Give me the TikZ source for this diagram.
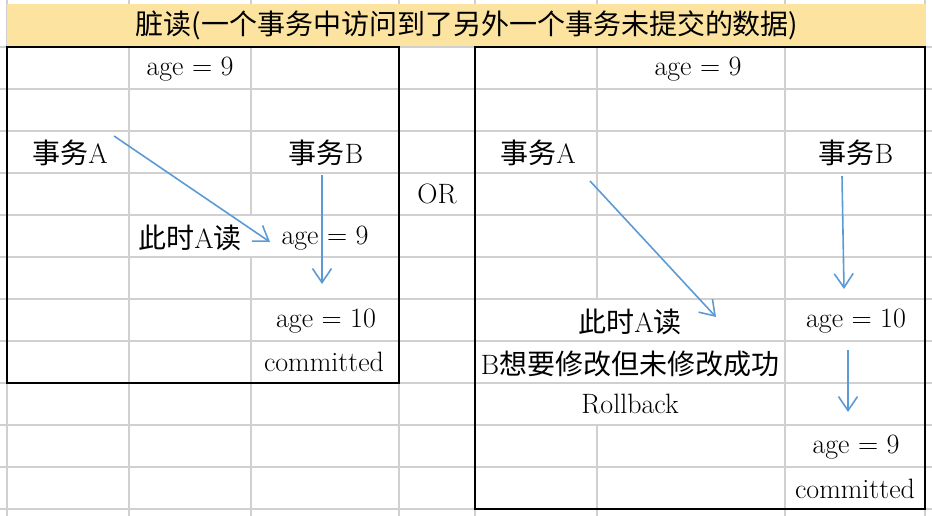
\documentclass[tikz,border=0pt]{standalone}
\usepackage{fontspec}
\newfontfamily\cjk{Noto Sans CJK SC}
\usetikzlibrary{arrows.meta}
\definecolor{headyellow}{HTML}{FCE4A0}
\definecolor{cellgray}{HTML}{D0D0D0}
\definecolor{flowblue}{HTML}{5B9BD5}
\begin{document}
\begin{tikzpicture}[x=1pt,y=-1pt]
  \tikzstyle{gridline} = [cellgray,line width=1.5pt]
  \tikzstyle{frame} = [black,line width=2pt]
  \tikzstyle{flow} = [flowblue,line width=1.6pt,-{Straight Barb[length=14pt,width=19pt]}]
  \tikzstyle{every node} = [font=\fontsize{28}{32}\selectfont,inner sep=0pt]
  \useasboundingbox (0,0) rectangle (932,516);
  \foreach \x in {7,129,399,475,785,925}
    \draw[gridline] (\x,0) -- (\x,516);
  \draw[gridline] (251,0) -- (251,215) (251,257) -- (251,516);
  \draw[gridline] (597,0) -- (597,299) (597,425) -- (597,516);
  \foreach \y in {47,89,...,509}
    \draw[gridline] (0,\y) -- (932,\y);
  \fill[headyellow] (7,4) rectangle (926,46);
  \draw[frame] (7,47) rectangle (399,383);
  \draw[frame] (475,47) rectangle (925,509);
  \node (title) at (467,25) {\cjk 脏读(一个事务中访问到了另外一个事务未提交的数据)};
  \node (lage1) at (190,69) {age = 9};
  \node (lA) at (70,153) {{\cjk 事务}A};
  \node (lB) at (326,153) {{\cjk 事务}B};
  \node (or) at (437,194) {OR};
  \node (lread) at (190,238) {{\cjk 此时}A{\cjk 读}};
  \node (lage2) at (325,238) {age = 9};
  \node (lage3) at (326,321) {age = 10};
  \node (lcommit) at (324,362) {committed};
  \node (rage1) at (698,69) {age = 9};
  \node (rA) at (538,153) {{\cjk 事务}A};
  \node (rB) at (856,153) {{\cjk 事务}B};
  \node (rread) at (630,322) {{\cjk 此时}A{\cjk 读}};
  \node (rage2) at (856,321) {age = 10};
  \node (rtry) at (630,364) {B{\cjk 想要修改但未修改成功}};
  \node (rroll) at (630,404) {Rollback};
  \node (rage3) at (856,447) {age = 9};
  \node (rcommit) at (855,489) {committed};
  \coordinate (lAfrom) at (114,136);
  \coordinate (lAto) at (270,242);
  \coordinate (lBfrom) at (322,175);
  \coordinate (lBto) at (322,284);
  \coordinate (rAfrom) at (590,181);
  \coordinate (rAto) at (716,317);
  \coordinate (rBfrom) at (842,176);
  \coordinate (rBto) at (844,289);
  \coordinate (rBfrom2) at (848,350);
  \coordinate (rBto2) at (848,412);
  \draw[flow] (lAfrom) to (lAto);
  \draw[flow] (lBfrom) to (lBto);
  \draw[flow] (rAfrom) to (rAto);
  \draw[flow] (rBfrom) to (rBto);
  \draw[flow] (rBfrom2) to (rBto2);
\end{tikzpicture}
\end{document}
